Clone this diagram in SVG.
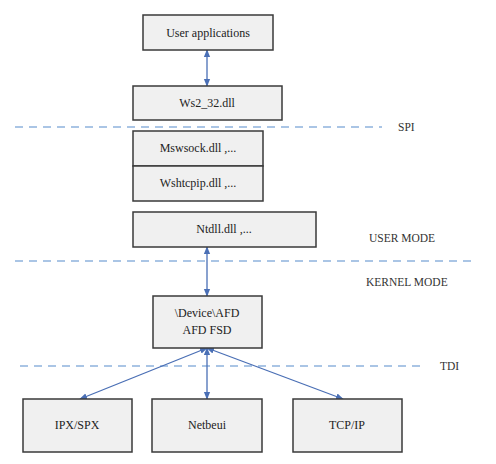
<svg xmlns="http://www.w3.org/2000/svg" width="496" height="464" viewBox="0 0 496 464" font-family="Liberation Serif, DejaVu Serif, serif">
<style>
.box{fill:#f0f0f0;stroke:#3a3a3a;stroke-width:1.5}
.t{font-size:12px;fill:#222;text-anchor:middle}
.lbl{font-size:11.5px;fill:#333}
.dash{stroke:#8fb2dd;stroke-width:1.5;stroke-dasharray:8,6;fill:none}
.conn{stroke:#4a6fb5;stroke-width:1.3;fill:none;marker-start:url(#a);marker-end:url(#a)}
</style>
<defs>
<marker id="a" viewBox="0 0 10 10" refX="9" refY="5" markerWidth="6" markerHeight="6" orient="auto-start-reverse">
<path d="M0,1 L10,5 L0,9 z" fill="#4a6fb5"/>
</marker>
</defs>
<rect width="496" height="464" fill="#fff"/>
<g id="dividers">
<line class="dash" x1="15" y1="127" x2="382" y2="127"/>
<text class="lbl" x="398" y="131" font-family="Liberation Serif, serif">SPI</text>
<text class="lbl" x="369" y="242" font-family="Liberation Serif, serif">USER MODE</text>
<line class="dash" x1="15" y1="261" x2="472" y2="261"/>
<text class="lbl" x="366" y="286" font-family="Liberation Serif, serif">KERNEL MODE</text>
<line class="dash" x1="20" y1="366" x2="420" y2="366"/>
<text class="lbl" x="440" y="370" font-family="Liberation Serif, serif">TDI</text>
</g>
<g id="connectors">
<line class="conn" x1="207" y1="50" x2="207" y2="86"/>
<line class="conn" x1="207" y1="247" x2="207" y2="296"/>
<line class="conn" x1="207" y1="348" x2="80" y2="399"/>
<line class="conn" x1="207" y1="348" x2="207" y2="399"/>
<line class="conn" x1="207" y1="348" x2="343" y2="399"/>
</g>
<g font-family="Liberation Serif, serif">
<g id="user-applications"><rect class="box" x="143" y="15" width="130" height="35"/><text class="t" x="208" y="37">User applications</text></g>
<g id="ws2_32"><rect class="box" x="133" y="86" width="149" height="34"/><text class="t" x="207" y="107">Ws2_32.dll</text></g>
<g id="mswsock"><rect class="box" x="133" y="131" width="130" height="35"/><text class="t" x="198" y="152">Mswsock.dll ,...</text></g>
<g id="wshtcpip"><rect class="box" x="133" y="166" width="130" height="35"/><text class="t" x="198" y="187">Wshtcpip.dll ,...</text></g>
<g id="ntdll"><rect class="box" x="133" y="212" width="183" height="35"/><text class="t" x="224" y="233">Ntdll.dll ,...</text></g>
<g id="afd"><rect class="box" x="153" y="296" width="109" height="52"/><text class="t" x="207" y="317">\Device\AFD</text><text class="t" x="207" y="334">AFD FSD</text></g>
<g id="ipx"><rect class="box" x="23" y="399" width="109" height="53"/><text class="t" x="77" y="429">IPX/SPX</text></g>
<g id="netbeui"><rect class="box" x="152" y="399" width="110" height="53"/><text class="t" x="207" y="429">Netbeui</text></g>
<g id="tcpip"><rect class="box" x="293" y="399" width="109" height="53"/><text class="t" x="347" y="429">TCP/IP</text></g>
</g>
</svg>
